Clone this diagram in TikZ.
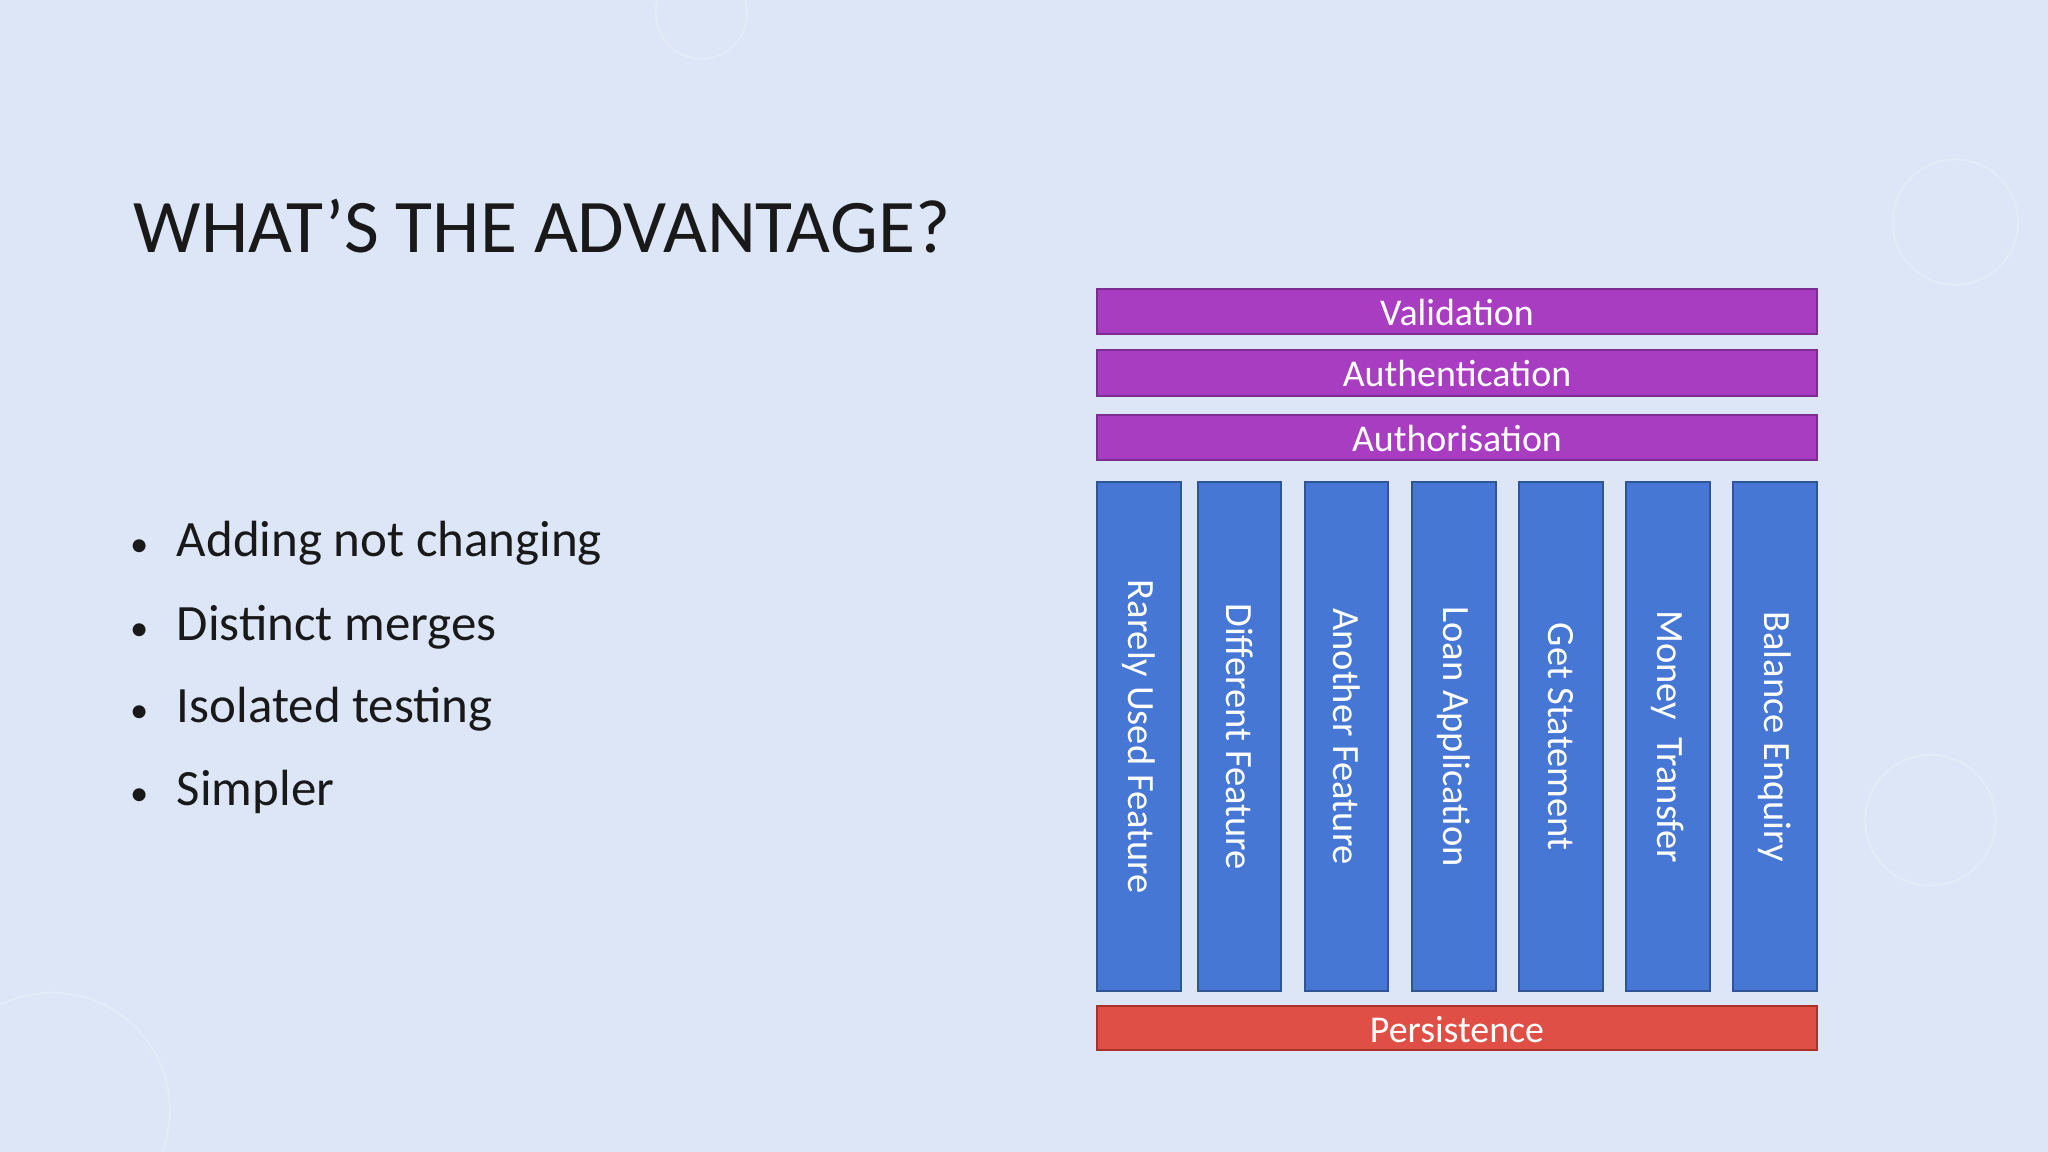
\documentclass[tikz,border=0pt]{standalone}
\usepackage{fontspec}
\setmainfont{Carlito}
\definecolor{bg}{HTML}{DCE6F6}
\definecolor{purp}{HTML}{A83DC2}
\definecolor{purpd}{HTML}{7B2D91}
\definecolor{blu}{HTML}{4677D4}
\definecolor{blud}{HTML}{2F5597}
\definecolor{redf}{HTML}{E04F45}
\definecolor{redd}{HTML}{A8322B}
\tikzset{
  purbar/.style={draw=purpd,fill=purp,line width=1.5pt},
  redbar/.style={draw=redd,fill=redf,line width=1.5pt},
  barlab/.style={text=white,font=\fontsize{29}{32}\selectfont},
  col/.style={draw=blud,fill=blu,line width=1.5pt},
  collab/.style={rotate=-90,text=white,font=\fontsize{29.5}{32}\selectfont},
  bul/.style={anchor=west,font=\fontsize{39}{44}\selectfont,text=black!90}
}
\begin{document}
\begin{tikzpicture}[x=1pt,y=-1pt]
\fill[bg] (0,0) rectangle (1568,882);
\useasboundingbox (0,0) rectangle (1568,882);
\draw[white,opacity=0.2,line width=1.5pt] (1497,170) circle (48);
\draw[white,opacity=0.2,line width=1.5pt] (1478,628) circle (50);
\draw[white,opacity=0.2,line width=1.5pt] (40,850) circle (90);
\draw[white,opacity=0.2,line width=1.5pt] (537,10) circle (35);
\node[anchor=base west,font=\fontsize{58}{64}\selectfont,text=black!90] (title) at (99,193) {WHAT’S THE ADVANTAGE?};
\node[bul] (b1) at (96,416) {{\fontsize{28}{30}\selectfont•}\hspace{22pt}Adding not changing};
\node[bul] (b2) at (96,480) {{\fontsize{28}{30}\selectfont•}\hspace{22pt}Distinct merges};
\node[bul] (b3) at (96,543) {{\fontsize{28}{30}\selectfont•}\hspace{22pt}Isolated testing};
\node[bul] (b4) at (96,606) {{\fontsize{28}{30}\selectfont•}\hspace{22pt}Simpler};
\path[purbar] (840,221) rectangle (1391,256);
\node[barlab] (val) at (1115.5,239) {Validation};
\path[purbar] (840,268) rectangle (1391,303);
\node[barlab] (aut) at (1115.5,286) {Authentication};
\path[purbar] (840,318) rectangle (1391,352);
\node[barlab] (auz) at (1115.5,336) {Authorisation};
\path[redbar] (840,770) rectangle (1391,804);
\node[barlab] (per) at (1115.5,788) {Persistence};
\foreach \x/\t [count=\i] in {840/Rarely Used Feature,917/Different Feature,999/Another Feature,1081/Loan Application,1163/Get Statement,1245/Money\ \ Transfer,1327/Balance Enquiry}{
  \path[col] (\x,369) rectangle (\x+64,759);
  \node[collab] (c\i) at (\x+32,564) {\t};
}
\end{tikzpicture}
\end{document}
